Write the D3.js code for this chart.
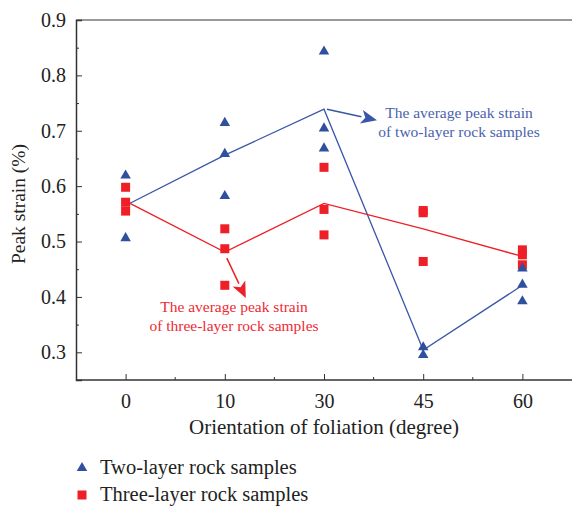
<!DOCTYPE html>
<html>
<head>
<meta charset="utf-8">
<script src="https://cdn.jsdelivr.net/npm/d3@7"></script>
<style>
  html, body { margin: 0; padding: 0; background: #fff; }
  svg { display: block; font-family: "Liberation Serif", "DejaVu Serif", serif; }
</style>
</head>
<body>
<svg id="chart" width="572" height="508"></svg>
<script>
// Foliation orientation categories (degrees)
const angles = ["0", "10", "30", "45", "60"];
// Individual peak strain measurements (%)
const twoLayer = [
  [0.621, 0.508],
  [0.716, 0.660, 0.584],
  [0.845, 0.706, 0.670],
  [0.311, 0.297],
  [0.453, 0.424, 0.394]
];
const threeLayer = [
  [0.598, 0.571, 0.555],
  [0.523, 0.487, 0.421],
  [0.634, 0.558, 0.512],
  [0.556, 0.552, 0.464],
  [0.485, 0.476, 0.458]
];
// Average peak strain per orientation
const twoAvg = [0.565, 0.656, 0.739, 0.304, 0.421];
const threeAvg = [0.573, 0.481, 0.569, 0.523, 0.473];
const yTicks = [0.3, 0.4, 0.5, 0.6, 0.7, 0.8, 0.9];

const BLUE = "#2f4f9f", BLUE_LINE = "#3a56a8", RED = "#ee1f26";
const svg = d3.select("#chart");
const mLeft = 76, mTop = 20, mBottom = 380, mRight = 572;

const x = d3.scalePoint().domain(angles).range([mLeft, mRight]).padding(0.5);
const y = d3.scaleLinear().domain([0.25, 0.9]).range([mBottom, mTop]);

// top frame edge
svg.append("line").attr("x1", mLeft).attr("x2", mRight).attr("y1", mTop).attr("y2", mTop)
  .attr("stroke", "#777").attr("stroke-width", 1.5);

// y axis
const yAxis = svg.append("g").attr("transform", `translate(${mLeft},0)`)
  .call(d3.axisLeft(y).tickValues(yTicks).tickFormat(d3.format(".1f")).tickSize(-6).tickPadding(10));
const yMinor = svg.append("g").attr("transform", `translate(${mLeft},0)`)
  .call(d3.axisLeft(y).tickValues(d3.range(0.35, 0.9, 0.1)).tickFormat("").tickSize(-3));
yMinor.select(".domain").remove();

// x axis
const xAxis = svg.append("g").attr("transform", `translate(0,${mBottom})`)
  .call(d3.axisBottom(x).tickSize(-6).tickPadding(14));
const mids = angles.slice(1).map((a, i) => (x(angles[i]) + x(a)) / 2);
svg.append("g").selectAll("line").data(mids).join("line")
  .attr("x1", d => d).attr("x2", d => d).attr("y1", mBottom).attr("y2", mBottom - 3)
  .attr("stroke", "#333").attr("stroke-width", 1);

[yAxis, xAxis, yMinor].forEach(g => {
  g.selectAll("path.domain").attr("stroke", "#333").attr("stroke-width", 1.5);
  g.selectAll(".tick line").attr("stroke", "#333").attr("stroke-width", 1);
  g.selectAll(".tick text").attr("font-family", "Liberation Serif, serif").attr("font-size", 20).attr("fill", "#222");
});
xAxis.select(".domain").attr("d", `M${mLeft},0H${mRight}`);

// axis titles
svg.append("text").attr("x", 324).attr("y", 434)
  .attr("text-anchor", "middle").attr("font-size", 21).attr("fill", "#222")
  .text("Orientation of foliation (degree)");
svg.append("text").attr("transform", `translate(25,${(mTop + mBottom) / 2 + 4}) rotate(-90)`)
  .attr("text-anchor", "middle").attr("font-size", 19.5).attr("fill", "#222")
  .text("Peak strain (%)");

// average lines
const line = d3.line().x((d, i) => x(angles[i])).y(d => y(d));
svg.append("path").datum(twoAvg).attr("d", line).attr("fill", "none")
  .attr("stroke", BLUE_LINE).attr("stroke-width", 1.3);
svg.append("path").datum(threeAvg).attr("d", line).attr("fill", "none")
  .attr("stroke", RED).attr("stroke-width", 1.3);

// sample markers
const tri = d3.symbol().type(d3.symbolTriangle).size(48);
const flat = (arr) => arr.flatMap((vals, i) => vals.map(v => ({ a: angles[i], v })));
svg.append("g").selectAll("rect").data(flat(threeLayer)).join("rect")
  .attr("x", d => x(d.a) - 4.5).attr("y", d => y(d.v) - 4.5)
  .attr("width", 9).attr("height", 9).attr("fill", RED);
svg.append("g").selectAll("path").data(flat(twoLayer)).join("path")
  .attr("d", tri).attr("transform", d => `translate(${x(d.a)},${y(d.v) + 1})`).attr("fill", BLUE);

// annotation arrows
function arrow(x1, y1, x2, y2, color) {
  const ang = Math.atan2(y2 - y1, x2 - x1);
  const L = 16, W = 7;
  const bx = x2 - L * Math.cos(ang), by = y2 - L * Math.sin(ang);
  svg.append("line").attr("x1", x1).attr("y1", y1).attr("x2", bx).attr("y2", by)
    .attr("stroke", color).attr("stroke-width", 1.5);
  const px = -Math.sin(ang) * W, py = Math.cos(ang) * W;
  svg.append("path")
    .attr("d", `M${x2},${y2}L${bx + px},${by + py}L${bx + 4 * Math.cos(ang)},${by + 4 * Math.sin(ang)}L${bx - px},${by - py}Z`)
    .attr("fill", color);
}
arrow(x("30") + 3, y(0.739), x("30") + 53, y(0.719), BLUE_LINE);
arrow(x("10") + 2, y(0.470), x("10") + 21, y(0.398), RED);

const note = (cx, y0, lines, color) => {
  const t = svg.append("text").attr("text-anchor", "middle").attr("font-size", 15.5).attr("fill", color);
  lines.forEach((s, i) => t.append("tspan").attr("x", cx).attr("y", y0 + i * 19).text(s));
};
note(459, 118, ["The average peak strain", "of two-layer rock samples"], "#4a62ad");
note(234, 312, ["The average peak strain", "of three-layer rock samples"], "#ee2a33");

// legend
const lg = svg.append("g");
lg.append("path").attr("d", tri).attr("transform", "translate(82,468)").attr("fill", BLUE);
lg.append("rect").attr("x", 77.5).attr("y", 490.5).attr("width", 9).attr("height", 9).attr("fill", RED);
lg.append("text").attr("x", 100).attr("y", 474).attr("font-size", 20.5).attr("fill", "#222").text("Two-layer rock samples");
lg.append("text").attr("x", 100).attr("y", 501).attr("font-size", 20.5).attr("fill", "#222").text("Three-layer rock samples");
</script>
</body>
</html>
